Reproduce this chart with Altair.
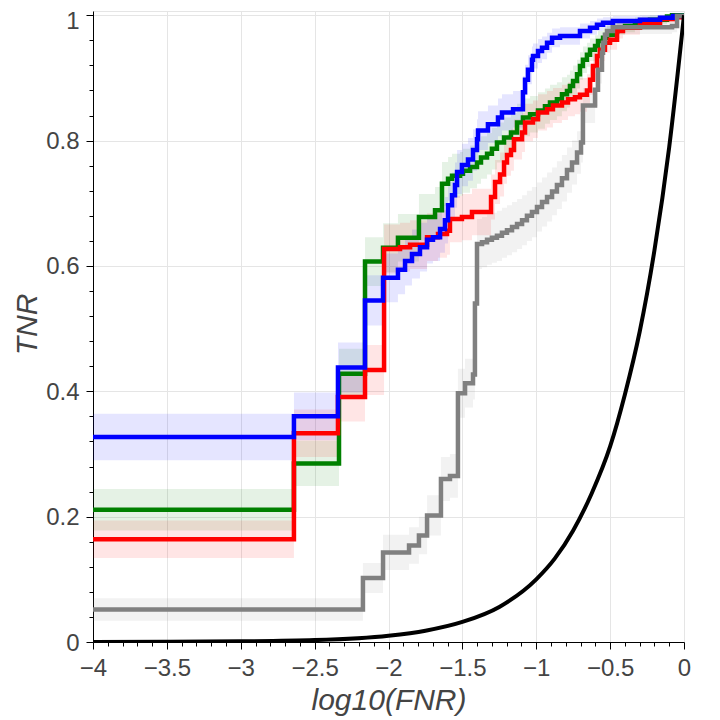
import altair as alt
import pandas as pd

# ---------------- data ----------------
blue_x = [-4.000, -2.640, -2.342, -2.159, -2.037, -1.936, -1.888, -1.841, -1.787, -1.739,
          -1.699, -1.651, -1.618, -1.597, -1.570, -1.550, -1.536, -1.503, -1.462, -1.428,
          -1.401, -1.394, -1.327, -1.259, -1.232, -1.157, -1.090, -1.076, -1.056, -1.029,
          -1.022, -0.988, -0.961, -0.927, -0.893, -0.839, -0.704, -0.636, -0.589, -0.548,
          -0.481, -0.298, -0.162, -0.074, 0.000]
blue_y = [0.327, 0.360, 0.438, 0.545, 0.581, 0.594, 0.608, 0.619, 0.630, 0.642,
          0.646, 0.659, 0.673, 0.697, 0.713, 0.729, 0.750, 0.761, 0.770, 0.785,
          0.802, 0.816, 0.826, 0.837, 0.845, 0.850, 0.877, 0.897, 0.913, 0.929,
          0.935, 0.943, 0.948, 0.956, 0.964, 0.967, 0.975, 0.980, 0.985, 0.988,
          0.991, 0.993, 0.996, 0.999, 1.000]
blue_hw = [0.037, 0.038, 0.040, 0.040, 0.039, 0.039, 0.039, 0.039, 0.039, 0.038,
           0.038, 0.038, 0.037, 0.037, 0.036, 0.036, 0.035, 0.034, 0.034, 0.033,
           0.032, 0.031, 0.030, 0.030, 0.029, 0.029, 0.026, 0.024, 0.023, 0.021,
           0.020, 0.019, 0.018, 0.016, 0.015, 0.014, 0.012, 0.011, 0.010, 0.009,
           0.008, 0.007, 0.005, 0.003, 0.000]

green_x = [-4.000, -2.640, -2.335, -2.159, -2.037, -1.936, -1.794, -1.685, -1.638, -1.597,
           -1.570, -1.516, -1.496, -1.448, -1.401, -1.374, -1.333, -1.300, -1.266, -1.218,
           -1.171, -1.130, -1.090, -1.042, -0.988, -0.941, -0.907, -0.860, -0.826, -0.792,
           -0.772, -0.751, -0.724, -0.704, -0.684, -0.657, -0.636, -0.602, -0.582, -0.548,
           -0.521, -0.481, -0.453, -0.399, -0.332, -0.284, -0.230, -0.115, -0.081, 0.000]
green_y = [0.211, 0.285, 0.428, 0.607, 0.629, 0.645, 0.678, 0.689, 0.731, 0.739,
           0.744, 0.747, 0.752, 0.758, 0.765, 0.773, 0.779, 0.787, 0.797, 0.805,
           0.813, 0.829, 0.837, 0.842, 0.848, 0.855, 0.861, 0.866, 0.874, 0.879,
           0.887, 0.895, 0.906, 0.919, 0.929, 0.937, 0.945, 0.951, 0.959, 0.964,
           0.969, 0.974, 0.980, 0.983, 0.988, 0.990, 0.993, 0.998, 1.000, 1.000]
green_hw = [0.033, 0.036, 0.040, 0.039, 0.039, 0.038, 0.037, 0.037, 0.035, 0.035,
            0.035, 0.035, 0.035, 0.034, 0.034, 0.034, 0.033, 0.033, 0.032, 0.032,
            0.031, 0.030, 0.030, 0.029, 0.029, 0.028, 0.028, 0.027, 0.027, 0.026,
            0.025, 0.025, 0.023, 0.022, 0.021, 0.019, 0.018, 0.017, 0.016, 0.015,
            0.014, 0.013, 0.011, 0.010, 0.009, 0.008, 0.007, 0.004, 0.000, 0.000]

red_x = [-4.000, -2.640, -2.342, -2.159, -2.030, -1.922, -1.854, -1.739, -1.665, -1.604,
         -1.584, -1.503, -1.435, -1.306, -1.279, -1.245, -1.218, -1.198, -1.171, -1.151,
         -1.096, -1.076, -1.022, -0.988, -0.927, -0.887, -0.826, -0.785, -0.738, -0.704,
         -0.657, -0.636, -0.616, -0.589, -0.569, -0.535, -0.501, -0.453, -0.413, -0.298,
         -0.162, -0.061, 0.000]
red_y = [0.164, 0.333, 0.391, 0.434, 0.627, 0.630, 0.634, 0.646, 0.651, 0.656,
         0.675, 0.678, 0.686, 0.710, 0.734, 0.746, 0.765, 0.777, 0.785, 0.802,
         0.813, 0.829, 0.834, 0.845, 0.850, 0.856, 0.861, 0.866, 0.869, 0.873,
         0.880, 0.897, 0.919, 0.935, 0.945, 0.956, 0.961, 0.975, 0.980, 0.988,
         0.994, 0.997, 1.000]
red_hw = [0.030, 0.038, 0.039, 0.040, 0.039, 0.039, 0.039, 0.038, 0.038, 0.038,
          0.037, 0.037, 0.037, 0.036, 0.035, 0.035, 0.034, 0.033, 0.033, 0.032,
          0.031, 0.030, 0.030, 0.029, 0.029, 0.028, 0.028, 0.027, 0.027, 0.027,
          0.026, 0.024, 0.022, 0.020, 0.018, 0.016, 0.016, 0.012, 0.011, 0.009,
          0.006, 0.004, 0.000]

gray_x = [-4.000, -2.173, -2.037, -1.861, -1.794, -1.739, -1.645, -1.584, -1.530, -1.482,
          -1.428, -1.415, -1.401, -1.367, -1.333, -1.300, -1.266, -1.232, -1.198, -1.164,
          -1.130, -1.096, -1.063, -1.029, -0.995, -0.961, -0.927, -0.893, -0.860, -0.826,
          -0.792, -0.758, -0.724, -0.697, -0.684, -0.602, -0.582, -0.555, -0.548, -0.535,
          -0.521, -0.481, -0.081, -0.047, 0.000]
gray_y = [0.052, 0.102, 0.143, 0.154, 0.170, 0.202, 0.260, 0.265, 0.397, 0.413,
          0.427, 0.540, 0.635, 0.638, 0.642, 0.645, 0.648, 0.653, 0.657, 0.662,
          0.667, 0.673, 0.680, 0.686, 0.694, 0.702, 0.710, 0.719, 0.729, 0.740,
          0.753, 0.765, 0.781, 0.797, 0.856, 0.881, 0.913, 0.940, 0.956, 0.969,
          0.975, 0.981, 0.983, 0.999, 1.000]
gray_hw = [0.018, 0.024, 0.028, 0.029, 0.030, 0.032, 0.035, 0.035, 0.039, 0.039,
           0.040, 0.040, 0.040, 0.040, 0.040, 0.040, 0.040, 0.040, 0.040, 0.040,
           0.040, 0.040, 0.040, 0.040, 0.039, 0.039, 0.039, 0.038, 0.038, 0.037,
           0.036, 0.035, 0.034, 0.032, 0.028, 0.026, 0.022, 0.019, 0.016, 0.014,
           0.012, 0.011, 0.010, 0.003, 0.000]

black_x = [-4.0, -3.5, -3.0, -2.5, -2.0, -1.75, -1.5, -1.25, -1.0, -0.875, -0.75,
           -0.625, -0.5, -0.4, -0.3, -0.2, -0.1, 0.0]
black_y = [0.0001, 0.0003, 0.001, 0.003, 0.01, 0.018, 0.032, 0.056, 0.1, 0.133, 0.178,
           0.237, 0.312, 0.395, 0.495, 0.625, 0.790, 1.0]

series_names = ["green", "red", "blue", "gray"]
series_colors = ["#008000", "#ff0000", "#0000ff", "#808080"]

x_ticks = [i / 10 for i in range(-40, 1)]
y_ticks = [i * 4 / 100 for i in range(26)]


def frame(name, xs, ys, hws):
    return pd.DataFrame({
        "series": name,
        "x": xs,
        "y": ys,
        "lo": [a - b for a, b in zip(ys, hws)],
        "hi": [a + b for a, b in zip(ys, hws)],
    })


frames = {
    "green": frame("green", green_x, green_y, green_hw),
    "red": frame("red", red_x, red_y, red_hw),
    "blue": frame("blue", blue_x, blue_y, blue_hw),
    "gray": frame("gray", gray_x, gray_y, gray_hw),
}
black_df = pd.DataFrame({"x": black_x, "y": black_y})

FONT = "Liberation Sans"
LABEL_SIZE = 24
x_major = "abs(datum.value*2 - round(datum.value*2)) < 0.001"
y_major = "abs(datum.value*5 - round(datum.value*5)) < 0.001"

x_axis = alt.Axis(
    values=x_ticks, title="log10(FNR)",
    labelExpr=f"{x_major} ? format(datum.value, '~g') : ''",
    tickSize={"condition": {"test": x_major, "value": 7}, "value": 4},
    gridOpacity={"condition": {"test": x_major, "value": 1}, "value": 0},
    labelPadding=7, labelFontSize=LABEL_SIZE, labelFont=FONT,
    titleX=295.5, titleY=67, titleBaseline="alphabetic", titleAlign="center",
)
y_axis = alt.Axis(
    values=y_ticks, title="TNR",
    labelExpr=f"{y_major} ? format(datum.value, '~g') : ''",
    tickSize={"condition": {"test": y_major, "value": 7}, "value": 4},
    gridOpacity={"condition": {"test": y_major, "value": 1}, "value": 0},
    labelPadding=7, labelFontSize=LABEL_SIZE, labelFont=FONT,
    labelOffset={"condition": {"test": "datum.value > 0.99", "value": 6}, "value": 1},
    titleAngle=270, titleX=-57, titleY=313, titleFontSize=30,
    titleBaseline="alphabetic", titleAlign="center",
)

x_scale = alt.Scale(domain=[-4, 0], nice=False, zero=False)
y_scale = alt.Scale(domain=[0, 1.0068], nice=False, zero=False)
color_scale = alt.Scale(domain=series_names, range=series_colors)

layers = []
for name in ["gray", "green", "red", "blue"]:
    layers.append(
        alt.Chart(frames[name]).mark_area(interpolate="step-after", opacity=0.1, clip=True).encode(
            x=alt.X("x:Q", scale=x_scale, axis=x_axis),
            y=alt.Y("lo:Q", scale=y_scale, axis=y_axis),
            y2="hi:Q",
            color=alt.Color("series:N", scale=color_scale, legend=None),
        )
    )
for name in ["green", "red", "blue", "gray"]:
    layers.append(
        alt.Chart(frames[name]).mark_line(interpolate="step-after", strokeWidth=4.5, clip=True).encode(
            x=alt.X("x:Q", scale=x_scale, axis=x_axis),
            y=alt.Y("y:Q", scale=y_scale, axis=y_axis),
            color=alt.Color("series:N", scale=color_scale, legend=None),
        )
    )
layers.append(
    alt.Chart(black_df).mark_line(interpolate="monotone", strokeWidth=4, color="black", clip=True).encode(
        x=alt.X("x:Q", scale=x_scale, axis=x_axis),
        y=alt.Y("y:Q", scale=y_scale, axis=y_axis),
    )
)

chart = alt.layer(*layers).properties(
    width=591, height=631,
    autosize=alt.AutoSizeParams(type="none"),
    padding={"left": 85, "top": 3, "right": 20, "bottom": 76},
).configure_view(
    stroke="#e5e5e5", strokeWidth=1
).configure_axis(
    grid=True, gridColor="#e5e5e5",
    labelFlush=False, labelOverlap=False,
    labelColor="#444444",
    domainColor="#000000", tickColor="#000000",
    titleFont=FONT, titleFontSize=30, titleFontStyle="italic", titleFontWeight="normal",
    titleColor="#444444",
)

chart.save("out.html", embed_options={"renderer": "svg", "actions": False})
